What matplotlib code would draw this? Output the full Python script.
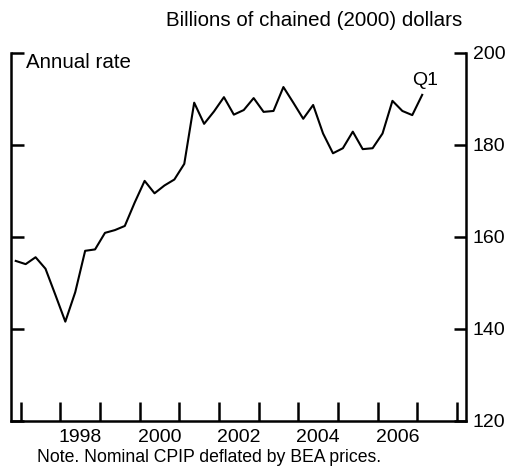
import matplotlib
matplotlib.use("Agg")
import matplotlib.pyplot as plt
import numpy as np

plt.rcParams['font.family'] = ['Liberation Sans', 'DejaVu Sans']

# Quarterly real CPIP, 1996:Q4 through 2007:Q1 (billions of chained 2000 dollars)
start_year = 1996
start_quarter = 4
values = [154.8, 154.1, 155.6, 153.1, 147.4, 141.6, 148.0, 157.0, 157.3, 160.9,
          161.5, 162.4, 167.5, 172.2, 169.5, 171.2, 172.5, 175.9, 189.2, 184.6,
          187.3, 190.4, 186.6, 187.6, 190.2, 187.2, 187.4, 192.6, 189.2, 185.7,
          188.7, 182.5, 178.2, 179.3, 182.9, 179.1, 179.3, 182.5, 189.6, 187.4,
          186.5, 190.9]
year_ticks = list(range(1997, 2009))
label_years = [1998, 2000, 2002, 2004, 2006]
y_ticks = [120, 140, 160, 180, 200]

# quarter midpoints in fractional years
t = np.array([start_year + (start_quarter - 1 + i) / 4 + 0.125 for i in range(len(values))])

W, H = 515, 468
fig = plt.figure(figsize=(W / 100, H / 100), dpi=100)
left_px, right_px, top_px, bottom_px = 11, 466, 53, 421
ax = fig.add_axes([left_px / W, 1 - bottom_px / H,
                   (right_px - left_px) / W, (bottom_px - top_px) / H])

ax.plot(t, values, color='black', lw=1.5)

ax.set_xlim(1996.755, 2008.23)
ax.set_ylim(120, 200)

ax.spines['top'].set_visible(False)
for s in ['left', 'right', 'bottom']:
    ax.spines[s].set_linewidth(1.8)

ax.set_yticks(y_ticks)
ax.yaxis.set_ticks_position('both')
ax.tick_params(axis='y', direction='in', length=9, width=1.8,
               left=True, right=True, labelleft=False, labelright=True,
               labelsize=14, pad=5)

ax.set_xticks(year_ticks)
ax.set_xticklabels([])
ax.set_xticks([y + 0.5 for y in label_years], minor=True)
ax.set_xticklabels([str(y) for y in label_years], minor=True)
ax.tick_params(axis='x', which='major', direction='in', length=14, width=1.8)
ax.tick_params(axis='x', which='minor', length=0, labelsize=14, pad=6)

ax.text(0.033, 0.974, 'Annual rate', transform=ax.transAxes, fontsize=14.8,
        ha='left', va='center')
ax.annotate('Q1', xy=(t[-1], values[-1]), xytext=(2.2, 10.6),
            textcoords='offset points', fontsize=14, ha='center', va='center')

fig.text(462 / W, 1 - 20 / H, 'Billions of chained (2000) dollars',
         fontsize=14.8, ha='right', va='center')
fig.text(37 / W, 1 - 458 / H, 'Note. Nominal CPIP deflated by BEA prices.',
         fontsize=12.7, ha='left', va='center')

fig.savefig('out.png', dpi=100)
